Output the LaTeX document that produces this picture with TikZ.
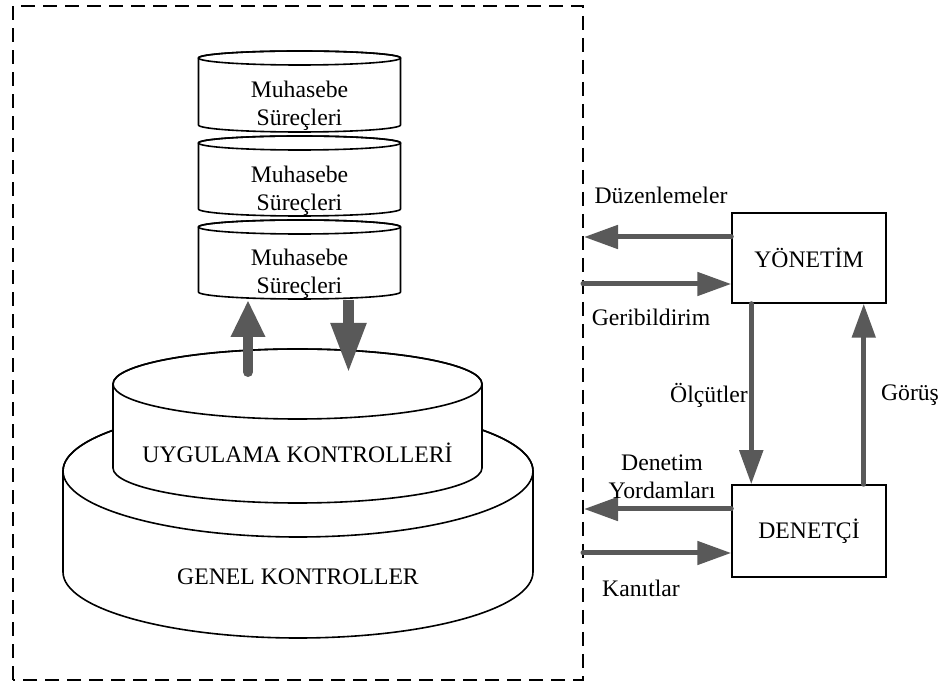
\documentclass[tikz,border=0pt]{standalone}
\usepackage{fontspec}
\setmainfont{Liberation Serif}
\usetikzlibrary{arrows.meta}
\definecolor{flowgray}{RGB}{89,89,89}

% drum shape: centre x, top y, bottom y, x radius, y radius
\newcommand\drumshape[5]{%
  \filldraw[outline, fill=white]
    ({#1-#4},#2) -- ({#1-#4},#3)
    arc[start angle=180, end angle=360, x radius=#4pt, y radius=#5pt]
    -- ({#1+#4},#2)
    arc[start angle=0, end angle=180, x radius=#4pt, y radius=#5pt] -- cycle;
  \draw[outline] (#1,#2) ellipse[x radius=#4pt, y radius=#5pt];
}

\begin{document}
\begin{tikzpicture}[x=1pt, y=1pt,
  font=\fontsize{23.7}{28}\selectfont,
  outline/.style={line width=1.6pt, draw=black},
  boundary/.style={line width=1.6pt, dash pattern=on 14pt off 8pt},
  label/.style={inner sep=0pt, align=center},
  actor/.style={draw, line width=1.5pt, minimum width=154pt, minimum height=90pt, inner sep=0pt},
  flow/.style={draw=flowgray, line width=5pt, line cap=round,
    -{Triangle[length=34pt, width=23pt]}},
  riseflow/.style={draw=flowgray, line width=10pt, line cap=round,
    -{Triangle[length=37pt, width=32pt]}},
  dropflow/.style={draw=flowgray, line width=11pt,
    -{Triangle[length=50pt, width=33pt]}}
]
\useasboundingbox (0,0) rectangle (940,683);

% system boundary
\draw[boundary] (13,3) rectangle (583,677);

% control layers
\drumshape{298}{212}{111}{235}{66}
\node[label] (genel) at (298,106) {GENEL KONTROLLER};
\drumshape{297.5}{299}{215}{184.5}{35}
\node[label] (uyg) at (297.5,230) {UYGULAMA KONTROLLER\.I};

% accounting processes
\drumshape{299.5}{625}{558}{101}{7}
\drumshape{299.5}{540}{474}{101}{7}
\drumshape{299.5}{456}{391}{101}{7}
\node[label] (mp1) at (299.5,577) {Muhasebe\\Süreçleri};
\node[label] (mp2) at (299.5,492) {Muhasebe\\Süreçleri};
\node[label] (mp3) at (299.5,409) {Muhasebe\\Süreçleri};

% attach points between processes and application controls
\coordinate (mpbase) at (299.5,383);
\coordinate (risefoot) at (248,311);
\coordinate (droptip) at (348.5,310);
\draw[riseflow] (risefoot) -- (risefoot |- mpbase);
\draw[dropflow] (droptip |- mpbase) -- (droptip);

% management and auditor
\node[actor] (yon) at (809,425) {YÖNET\.IM};
\node[actor, minimum height=92pt] (den) at (809,152) {DENETÇ\.I};

\coordinate (dz) at (584,446);
\coordinate (gb) at (583,399);
\coordinate (dy) at (584,174);
\coordinate (kn) at (583,130);

\draw[flow] (yon.west |- dz) -- (dz);
\draw[flow] (gb) -- (gb -| yon.west);
\draw[flow] ([xshift=20pt]yon.south west) -- ([xshift=20pt]den.north west);
\draw[flow] ([xshift=-23pt]den.north east) -- ([xshift=-23pt]yon.south east);
\draw[flow] (den.west |- dy) -- (dy);
\draw[flow] (kn) -- (kn -| den.west);

% flow labels
\node[label] (lduz) at (661,488) {Düzenlemeler};
\node[label] (lger) at (651,366) {Geribildirim};
\node[label] (lolc) at (709,288) {Ölçütler};
\node[label] (lgor) at (910,288) {Görüş};
\node[label] (lden) at (662,206) {Denetim\\Yordamları};
\node[label] (lkan) at (641,95) {Kanıtlar};
\end{tikzpicture}
\end{document}
